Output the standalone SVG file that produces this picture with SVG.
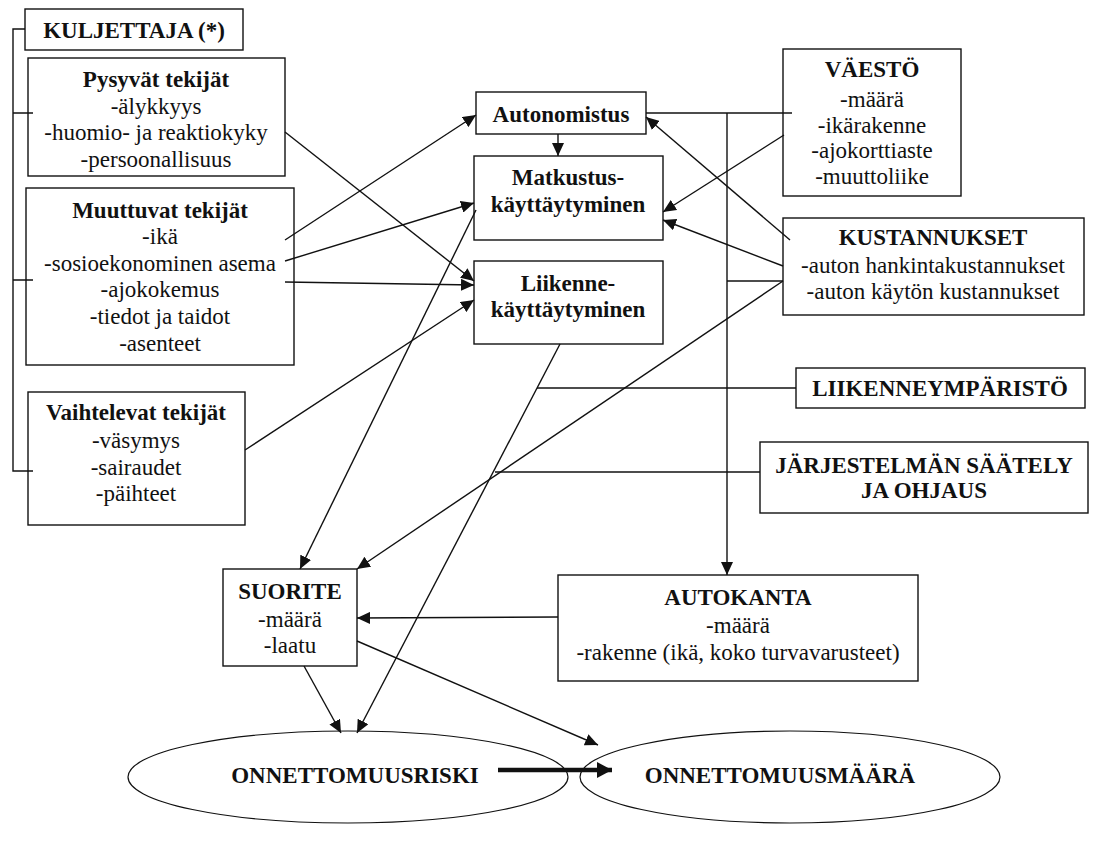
<svg xmlns="http://www.w3.org/2000/svg" width="1096" height="854" viewBox="0 0 1096 854">
<style>
text{font-family:"Liberation Serif","Times New Roman",serif;font-size:23px;fill:#111;text-anchor:middle}
.b{font-weight:bold}
.box{fill:#fff;stroke:#111;stroke-width:1.4}
.ell{fill:#fff;stroke:#111;stroke-width:1.2}
.c{fill:none;stroke:#111;stroke-width:1.4}
.a{marker-end:url(#ah)}
</style>
<defs>
<marker id="ah" markerUnits="userSpaceOnUse" markerWidth="14" markerHeight="12" refX="13" refY="6" orient="auto">
<path d="M0,0 L13,6 L0,12 z" fill="#111"/>
</marker>
<marker id="ahb" markerUnits="userSpaceOnUse" markerWidth="16" markerHeight="16" refX="15" refY="8" orient="auto">
<path d="M0,0 L15,8 L0,16 z" fill="#111"/>
</marker>
</defs>
<rect width="1096" height="854" fill="#fff"/>

<g id="onnettomuusriski"><ellipse class="ell" cx="348" cy="777" rx="220" ry="46"/><text class="b" x="355" y="783">ONNETTOMUUSRISKI</text></g>
<g id="onnettomuusmaara"><ellipse class="ell" cx="790" cy="777" rx="210" ry="46"/><text class="b" x="780" y="783">ONNETTOMUUSMÄÄRÄ</text></g>

<g id="kuljettaja"><rect class="box" x="25" y="9" width="218" height="41"/><text class="b" x="134" y="38">KULJETTAJA (*)</text></g>

<g id="pysyvat"><rect class="box" x="28" y="58" width="257" height="118"/>
<text class="b" x="156" y="87">Pysyvät tekijät</text>
<text x="156" y="114">-älykkyys</text>
<text x="156" y="140">-huomio- ja reaktiokyky</text>
<text x="156" y="167">-persoonallisuus</text></g>

<g id="muuttuvat"><rect class="box" x="26" y="188" width="268" height="177"/>
<text class="b" x="160" y="218">Muuttuvat tekijät</text>
<text x="160" y="244">-ikä</text>
<text x="160" y="271">-sosioekonominen asema</text>
<text x="160" y="297">-ajokokemus</text>
<text x="160" y="324">-tiedot ja taidot</text>
<text x="160" y="351">-asenteet</text></g>

<g id="vaihtelevat"><rect class="box" x="28" y="392" width="217" height="133"/>
<text class="b" x="136" y="420">Vaihtelevat tekijät</text>
<text x="136" y="448">-väsymys</text>
<text x="136" y="475">-sairaudet</text>
<text x="136" y="501">-päihteet</text></g>

<g id="autonomistus"><rect class="box" x="476" y="92" width="170" height="42"/><text class="b" x="561" y="122">Autonomistus</text></g>

<g id="matkustus"><rect class="box" x="474" y="156" width="189" height="84"/>
<text class="b" x="568" y="185">Matkustus-</text>
<text class="b" x="568" y="212">käyttäytyminen</text></g>

<g id="liikenne"><rect class="box" x="474" y="261" width="189" height="83"/>
<text class="b" x="568" y="291">Liikenne-</text>
<text class="b" x="568" y="317">käyttäytyminen</text></g>

<g id="vaesto"><rect class="box" x="783" y="49" width="178" height="147"/>
<text class="b" x="872" y="77">VÄESTÖ</text>
<text x="872" y="107">-määrä</text>
<text x="872" y="133">-ikärakenne</text>
<text x="872" y="158">-ajokorttiaste</text>
<text x="872" y="184">-muuttoliike</text></g>

<g id="kustannukset"><rect class="box" x="783" y="218" width="301" height="97"/>
<text class="b" x="933" y="245">KUSTANNUKSET</text>
<text x="933" y="273">-auton hankintakustannukset</text>
<text x="933" y="299">-auton käytön kustannukset</text></g>

<g id="liikenneymparisto"><rect class="box" x="796" y="368" width="289" height="40"/>
<text class="b" x="940" y="396">LIIKENNEYMPÄRISTÖ</text></g>

<g id="jarjestelma"><rect class="box" x="760" y="442" width="328" height="71"/>
<text class="b" x="924" y="473">JÄRJESTELMÄN SÄÄTELY</text>
<text class="b" x="924" y="498">JA OHJAUS</text></g>

<g id="suorite"><rect class="box" x="223" y="569" width="134" height="97"/>
<text class="b" x="290" y="599">SUORITE</text>
<text x="290" y="627">-määrä</text>
<text x="290" y="653">-laatu</text></g>

<g id="autokanta"><rect class="box" x="558" y="575" width="360" height="106"/>
<text class="b" x="738" y="605">AUTOKANTA</text>
<text x="738" y="633">-määrä</text>
<text x="738" y="660">-rakenne (ikä, koko turvavarusteet)</text></g>

<g id="connectors">
<path class="c" d="M25,29 H13 V471 H33 M13,113 H33 M13,280 H33"/>
<path class="c a" d="M285,132 L474,281"/>
<path class="c a" d="M285,240 L476,115"/>
<path class="c a" d="M285,261 L474,203"/>
<path class="c a" d="M285,282 L474,285"/>
<path class="c a" d="M245,450 L474,300"/>
<path class="c a" d="M558,134 L558,156"/>
<path class="c" d="M646,113 L792,113"/>
<path class="c a" d="M727,113 L727,575"/>
<path class="c a" d="M784,135 L663,212"/>
<path class="c a" d="M790,240 L646,117"/>
<path class="c a" d="M783,266 L663,220"/>
<path class="c" d="M727,281 L783,281"/>
<path class="c a" d="M783,281 L357,569"/>
<path class="c a" d="M476,210 L300,569"/>
<path class="c a" d="M560,344 L357,733"/>
<path class="c" d="M537,388 L796,388"/>
<path class="c" d="M495,472 L760,472"/>
<path class="c a" d="M558,617 L357,618"/>
<path class="c a" d="M304,666 L341,733"/>
<path class="c a" d="M357,641 L598,745"/>
<path d="M498,770 L612,770" fill="none" stroke="#111" stroke-width="4.5" marker-end="url(#ahb)"/>
</g>
</svg>
